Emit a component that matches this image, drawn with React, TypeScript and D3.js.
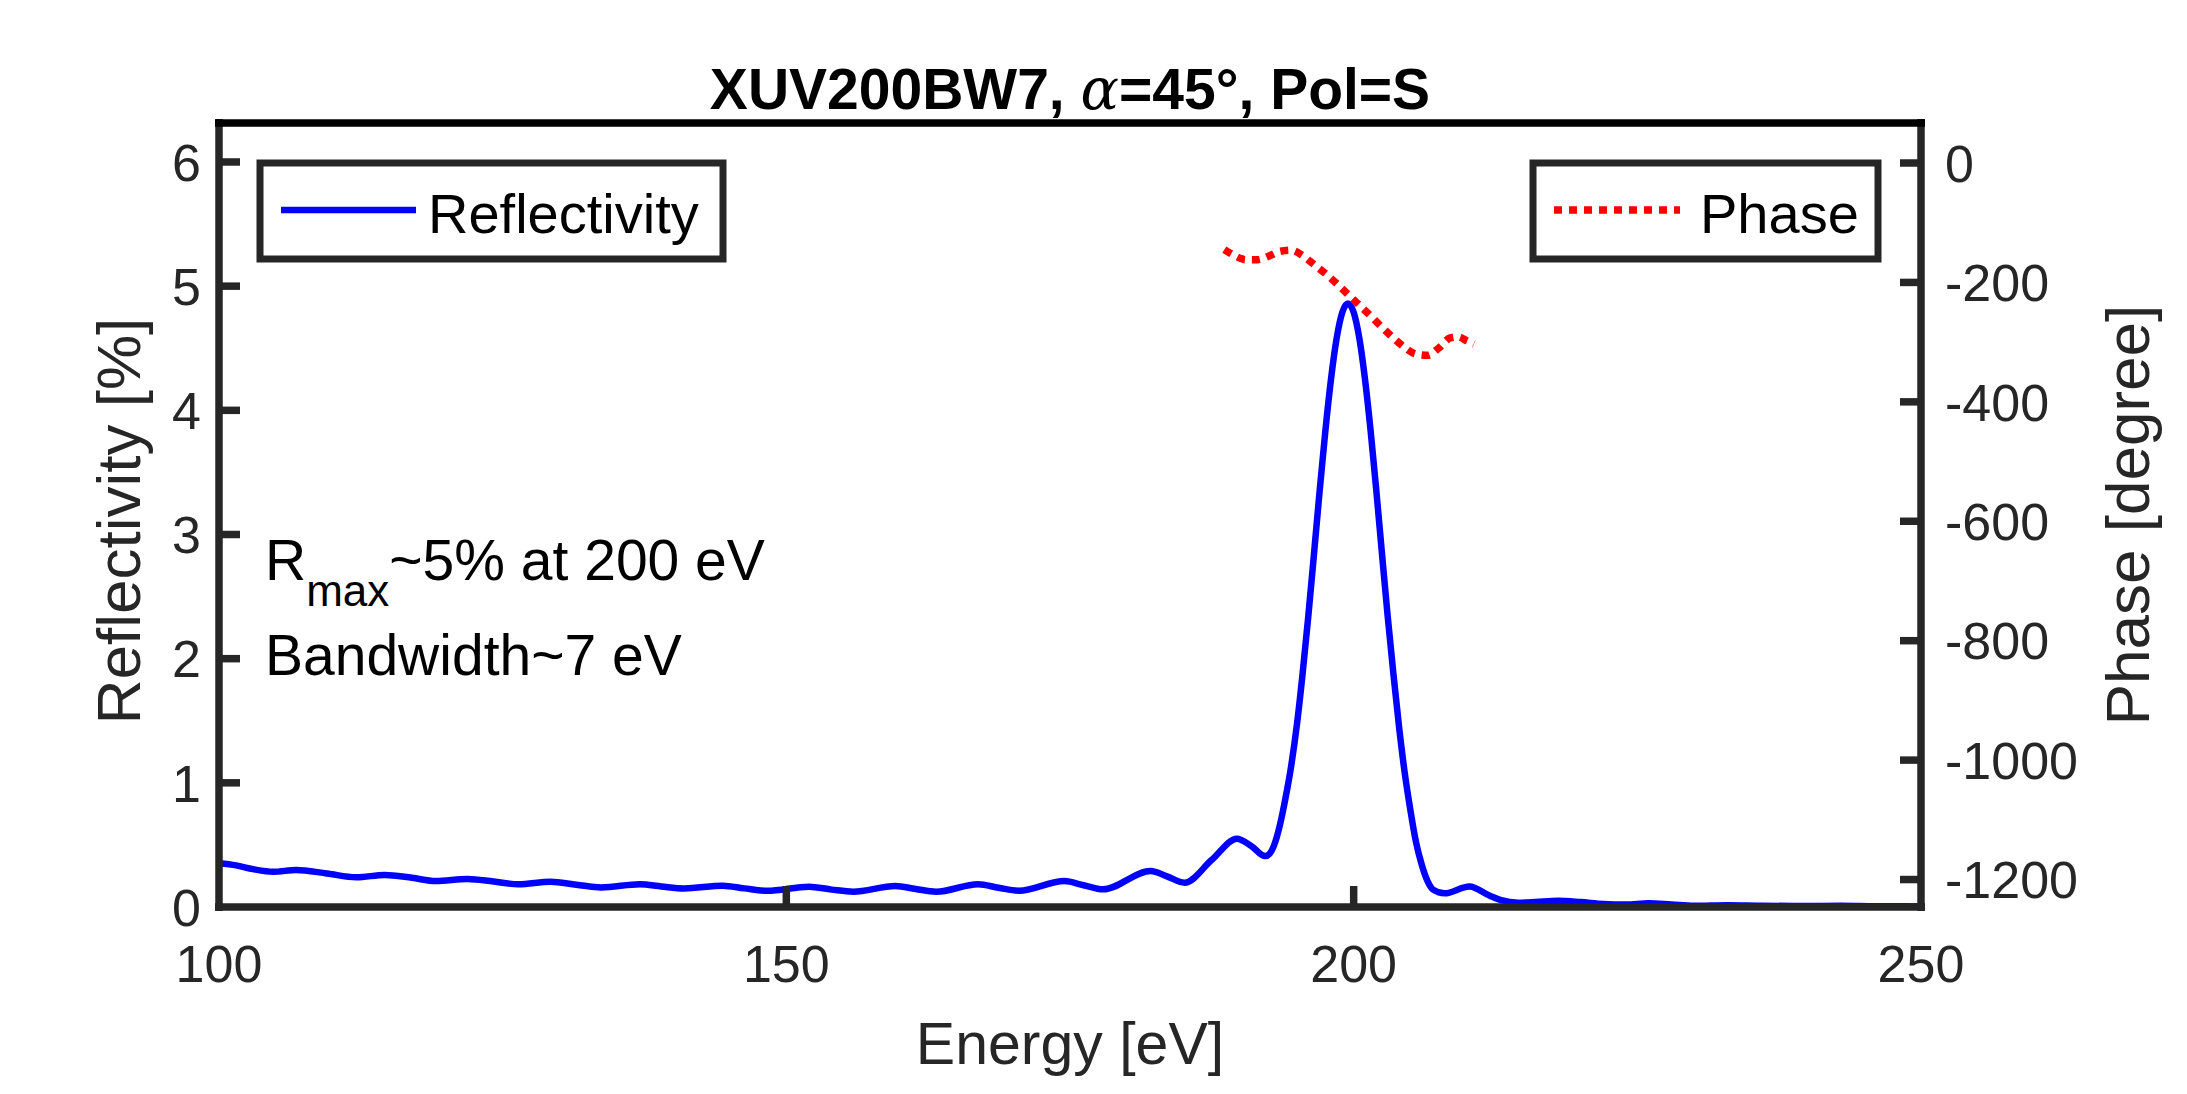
import React from 'react';
import * as d3 from 'd3';

// ---- Data ----
const energy = [
  100.0, 101.5, 103.0, 104.8, 106.8, 109.5, 112.1, 114.6, 117.0, 119.1, 121.9, 124.2, 126.4, 129.2, 131.5,
  133.7, 137.1, 139.0, 141.0, 144.4, 146.3, 148.3, 152.0, 154.0, 155.9, 159.6, 161.4, 163.2, 166.9, 168.7,
  170.5, 174.5, 176.2, 177.9, 182.1, 183.6, 185.1, 187.5, 189.7, 191.0, 192.2, 192.6, 193.0, 193.5, 194.0,
  194.5, 195.0, 195.5, 196.0, 196.5, 197.0, 197.5, 198.0, 198.5, 199.0, 199.5, 200.0, 200.5, 201.0, 201.5,
  202.0, 202.5, 203.0, 203.5, 204.0, 204.5, 205.0, 205.5, 206.0, 206.5, 207.0, 208.0, 210.2, 212.0, 213.0,
  214.5, 216.0, 218.0, 220.0, 222.0, 224.0, 226.0, 228.0, 230.0, 233.0, 236.0, 240.0, 243.0, 246.0, 250.0,
];
const reflectivity = [
  0.352, 0.335, 0.305, 0.284, 0.298, 0.270, 0.239, 0.258, 0.235, 0.209, 0.225, 0.205, 0.183, 0.204, 0.180,
  0.158, 0.183, 0.165, 0.150, 0.172, 0.150, 0.131, 0.164, 0.140, 0.123, 0.169, 0.145, 0.123, 0.183, 0.155,
  0.131, 0.209, 0.175, 0.142, 0.290, 0.245, 0.196, 0.380, 0.550, 0.490, 0.410, 0.430, 0.500, 0.660, 0.880,
  1.140, 1.470, 1.880, 2.340, 2.840, 3.350, 3.830, 4.250, 4.580, 4.790, 4.860, 4.790, 4.580, 4.250, 3.830,
  3.350, 2.840, 2.340, 1.880, 1.450, 1.080, 0.780, 0.520, 0.340, 0.210, 0.140, 0.110, 0.165, 0.090, 0.055,
  0.035, 0.040, 0.050, 0.040, 0.025, 0.020, 0.030, 0.020, 0.010, 0.015, 0.010, 0.008, 0.010, 0.006, 0.005,
];
const phaseEnergy = [
  188.6, 189.5, 190.5, 191.5, 192.5, 193.5, 194.5, 195.5, 196.5, 197.5, 198.5, 199.5,
  200.5, 201.5, 202.5, 203.5, 204.5, 205.5, 206.5, 207.5, 208.5, 209.2, 210.0, 210.6,
];
const phaseDeg = [
  -145, -155, -162, -162, -156, -148, -146, -155, -170, -185, -202, -220,
  -238, -256, -275, -293, -309, -320, -322, -310, -293, -291, -298, -303,
];
const xTicks = [100, 150, 200, 250];
const leftTicks = [0, 1, 2, 3, 4, 5, 6];
const rightTicks = [0, -200, -400, -600, -800, -1000, -1200];

const W = 2187;
const H = 1094;
const L = 219, R = 1921, T = 123, B = 907;
const AX = '#262626';
const FONT = '"Liberation Sans", Arial, Helvetica, sans-serif';

export default function App() {
  const x = d3.scaleLinear().domain([100, 250]).range([L, R]);
  const yL = d3.scaleLinear().domain([0, 6.314]).range([B, T]);
  const yR = d3.scaleLinear().domain([-1246, 67]).range([B, T]);

  const reflPts: [number, number][] = energy.map((e, i) => [e, reflectivity[i]]);
  const phasePts: [number, number][] = phaseEnergy.map((e, i) => [e, phaseDeg[i]]);

  const reflLine = d3.line<[number, number]>()
    .x(d => x(d[0])).y(d => yL(d[1])).curve(d3.curveMonotoneX);
  const phaseLine = d3.line<[number, number]>()
    .x(d => x(d[0])).y(d => yR(d[1])).curve(d3.curveMonotoneX);

  const tickLen = 21;
  const sw = 7.5;
  const tickFont = 52;

  return (
    <svg width={W} height={H} style={{ position: 'absolute', left: 0, top: 0, background: '#fff' }}
      fontFamily={FONT}>
      <defs>
        <clipPath id="plotclip">
          <rect x={L} y={T} width={R - L} height={B - T} />
        </clipPath>
      </defs>
      <rect x={0} y={0} width={W} height={H} fill="#fff" />

      {/* data */}
      <g clipPath="url(#plotclip)">
        <path d={reflLine(reflPts) || ''} fill="none" stroke="#0000ff" strokeWidth={6.5} strokeLinejoin="round" />
        <path d={phaseLine(phasePts) || ''} fill="none" stroke="#ff0000" strokeWidth={7.5}
          strokeDasharray="8 7" strokeLinecap="butt" />
      </g>

      {/* axes lines */}
      <line x1={L} x2={L} y1={T - 4} y2={B + 4} stroke={AX} strokeWidth={sw} />
      <line x1={R} x2={R} y1={T - 4} y2={B + 4} stroke={AX} strokeWidth={sw} />
      <line x1={L - 4} x2={R + 4} y1={B} y2={B} stroke={AX} strokeWidth={sw} />
      <line x1={L - 4} x2={R + 4} y1={T} y2={T} stroke="#000" strokeWidth={sw} />

      {/* left ticks */}
      {leftTicks.map(t => (
        <g key={'l' + t}>
          {t > 0 && <line x1={L} x2={L + tickLen} y1={yL(t)} y2={yL(t)} stroke={AX} strokeWidth={sw} />}
          <text x={201} y={yL(t)} dy="0.36em" textAnchor="end" fontSize={tickFont} fill={AX}>{t}</text>
        </g>
      ))}
      {/* right ticks */}
      {rightTicks.map(t => (
        <g key={'r' + t}>
          <line x1={R - tickLen} x2={R} y1={yR(t)} y2={yR(t)} stroke={AX} strokeWidth={sw} />
          <text x={1945} y={yR(t)} dy="0.36em" textAnchor="start" fontSize={tickFont} fill={AX}>{t}</text>
        </g>
      ))}
      {/* bottom ticks */}
      {xTicks.map(t => (
        <g key={'x' + t}>
          {t > 100 && t < 250 && <line x1={x(t)} x2={x(t)} y1={B} y2={B - tickLen} stroke={AX} strokeWidth={sw} />}
          <text x={x(t)} y={982} textAnchor="middle" fontSize={tickFont} fill={AX}>{t}</text>
        </g>
      ))}

      {/* axis labels */}
      <text x={1070} y={1064} textAnchor="middle" fontSize={59} fill={AX}>Energy [eV]</text>
      <text transform={`translate(140, ${(T + B) / 2 + 6}) rotate(-90)`} textAnchor="middle" fontSize={62} fill={AX}>Reflectivity [%]</text>
      <text transform={`translate(2149, ${(T + B) / 2}) rotate(-90)`} textAnchor="middle" fontSize={62} fill={AX}>Phase [degree]</text>

      {/* title */}
      <text x={1070} y={109} textAnchor="middle" fontSize={57} fontWeight="bold" fill="#000">
        XUV200BW7, <tspan fontFamily='"DejaVu Serif", "Liberation Serif", serif' fontStyle="italic" fontWeight="normal">α</tspan>=45°, Pol=S
      </text>

      {/* annotation */}
      <text x={265} y={580} fontSize={57} fill="#000">
        R<tspan fontSize={44} dy={26}>max</tspan><tspan fontSize={57} dy={-26}>~5% at 200 eV</tspan>
      </text>
      <text x={265} y={675} fontSize={57} fill="#000">Bandwidth~7 eV</text>

      {/* legends */}
      <rect x={260} y={163} width={463} height={96} fill="#fff" stroke={AX} strokeWidth={7} />
      <line x1={281} x2={416} y1={210} y2={210} stroke="#0000ff" strokeWidth={6.5} />
      <text x={428} y={233} fontSize={56} fill="#000">Reflectivity</text>

      <rect x={1533} y={163} width={345} height={96} fill="#fff" stroke={AX} strokeWidth={7} />
      <line x1={1554} x2={1680} y1={210} y2={210} stroke="#ff0000" strokeWidth={7.5} strokeDasharray="8 7" />
      <text x={1700} y={233} fontSize={56} fill="#000">Phase</text>
    </svg>
  );
}
